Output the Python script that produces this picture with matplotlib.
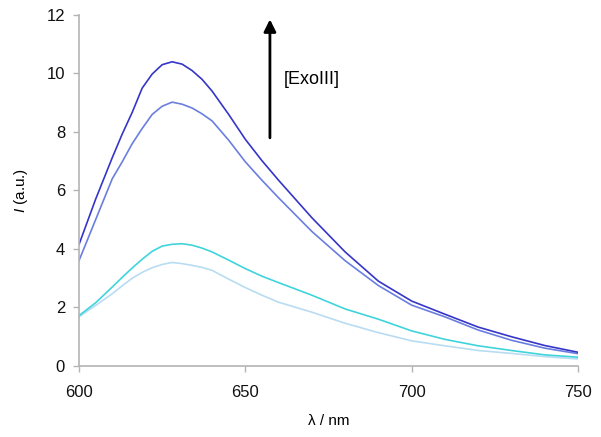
#!/bin/env python3

import numpy as np
import matplotlib.pyplot as plt

plt.rcParams['font.family'] = ['Liberation Sans', 'DejaVu Sans']
plt.rcParams['mathtext.fontset'] = 'custom'
plt.rcParams['mathtext.it'] = 'Liberation Sans:italic'
plt.rcParams['mathtext.rm'] = 'Liberation Sans'

# %% data -----

wavelength = [600, 605, 610, 613, 616, 619, 622, 625, 628, 631, 634, 637, 640,
              645, 650, 655, 660, 670, 680, 690, 700, 710, 720, 730, 740, 750]
exo_3 = [4.15, 5.70, 7.12, 7.93, 8.67, 9.50, 9.98, 10.30, 10.40, 10.32, 10.10,
         9.80, 9.40, 8.60, 7.75, 7.02, 6.35, 5.07, 3.90, 2.90, 2.22, 1.77,
         1.33, 1.00, 0.70, 0.47]
exo_2 = [3.60, 5.00, 6.40, 6.98, 7.60, 8.12, 8.60, 8.88, 9.02, 8.95, 8.82,
         8.62, 8.38, 7.72, 6.98, 6.35, 5.75, 4.60, 3.60, 2.75, 2.08, 1.68,
         1.23, 0.88, 0.61, 0.42]
exo_1 = [1.72, 2.16, 2.70, 3.03, 3.35, 3.65, 3.92, 4.10, 4.16, 4.18, 4.13,
         4.03, 3.90, 3.62, 3.33, 3.07, 2.85, 2.42, 1.95, 1.60, 1.20, 0.91,
         0.69, 0.53, 0.38, 0.30]
exo_0 = [1.68, 2.07, 2.47, 2.74, 3.00, 3.20, 3.36, 3.47, 3.54, 3.50, 3.44,
         3.37, 3.27, 2.97, 2.68, 2.42, 2.18, 1.84, 1.46, 1.14, 0.86, 0.69,
         0.53, 0.43, 0.32, 0.24]

series = [
    (exo_0, '#b8dcf2'),
    (exo_1, '#3fd4dc'),
    (exo_2, '#6a7ee0'),
    (exo_3, '#3535c8'),
]

# %% plot -----

fig = plt.figure(figsize=(6.01, 4.37), dpi=100)
ax = fig.add_axes([0.1314, 0.1625, 0.8303, 0.8032])

for values, color in series:
    ax.plot(wavelength, values, color=color, lw=1.2)

ax.set_xlim(600, 750)
ax.set_ylim(0, 12)
ax.set_xticks([600, 650, 700, 750])
ax.set_yticks(np.arange(0, 13, 2))

for side in ('top', 'right'):
    ax.spines[side].set_visible(False)
for side in ('left', 'bottom'):
    ax.spines[side].set_color('#b4b4b4')
    ax.spines[side].set_linewidth(1.2)
ax.tick_params(direction='out', length=4, width=1, color='#b4b4b4',
               labelsize=12, labelcolor='#111111', pad=6)
ax.tick_params(axis='x', pad=10)

ax.set_xlabel('λ / nm', fontsize=11, labelpad=10)
ax.set_ylabel(r'$\mathit{I}$ (a.u.)', fontsize=11, labelpad=12)

ax.annotate('', xy=(657.4, 11.85), xytext=(657.4, 7.8),
            arrowprops=dict(arrowstyle='-|>', lw=2, color='black',
                            mutation_scale=18, shrinkA=0, shrinkB=0))
ax.text(661.5, 9.8, '[ExoIII]', fontsize=13, va='center', ha='left')

plt.savefig('out.png', dpi=100)
